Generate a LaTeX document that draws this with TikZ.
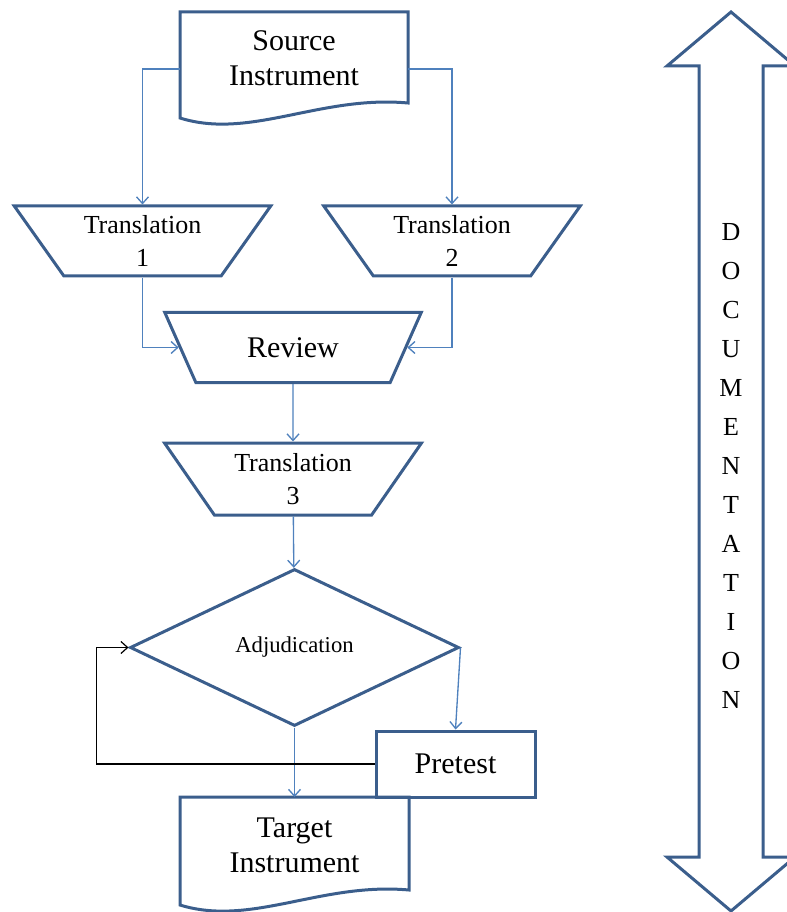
\documentclass[tikz,border=0pt]{standalone}
\usepackage{fontspec}
\setmainfont{Liberation Serif}
\usetikzlibrary{shapes.geometric,arrows.meta}
\definecolor{shapeblue}{RGB}{59,94,140}
\definecolor{linkblue}{RGB}{79,129,189}
\begin{document}
\begin{tikzpicture}[x=0.75pt,y=-0.75pt,
  outline/.style={draw=shapeblue,line width=2.25pt,line join=miter},
  trap/.style={outline,trapezium,trapezium stretches=true,shape border rotate=180,
    trapezium left angle=54,trapezium right angle=54,
    minimum width=257*0.75pt,minimum height=70*0.75pt,inner sep=0pt},
  conn/.style={draw=linkblue,line width=1pt,-{Straight Barb[length=5pt,width=9pt]}},
  back/.style={draw=black,line width=0.9pt,-{Straight Barb[length=5pt,width=9pt]}},
  bigtext/.style={font=\fontsize{22.5}{26.25}\selectfont,align=center},
  midtext/.style={font=\fontsize{19.5}{24.75}\selectfont,align=center},
  smalltext/.style={font=\fontsize{17}{20}\selectfont,align=center},
  frame/.style={inner sep=0pt,outer sep=0pt}
]
\useasboundingbox (0,0) rectangle (786,912);

% source document
\node[frame,minimum width=228*0.75pt,minimum height=114*0.75pt] (src) at (294,69) {};
\draw[outline] (180,12) -- (408,12) -- (408,103)
  .. controls (320,95) and (250,140) .. (180,118) -- cycle;
\node[bigtext] (srctext) at (294,58.5) {Source\\Instrument};

% translations and review
\node[trap,midtext] (t1) at (142.5,241) {Translation\\1};
\node[trap,midtext] (t2) at (452,241) {Translation\\2};
\node[trap,bigtext] (rev) at (293,347.5) {Review};
\node[trap,midtext,minimum height=72*0.75pt] (t3) at (293,479) {Translation\\3};

% adjudication and pretest
\node[outline,diamond,aspect=2,minimum width=329*0.75pt,minimum height=157*0.75pt,
  inner sep=0pt,smalltext] (adj) at (294.5,647.5) {Adjudication};
\node[outline,rectangle,minimum width=159*0.75pt,minimum height=66*0.75pt,bigtext]
  (pre) at (455.5,764) {Pretest};

% target document
\node[frame,minimum width=229*0.75pt,minimum height=114*0.75pt] (tgt) at (294.5,854) {};
\draw[outline] (180,797) -- (409,797) -- (409,890)
  .. controls (321,882) and (251,927) .. (180,905) -- cycle;
\node[bigtext] (tgttext) at (294.5,845.5) {Target\\Instrument};

% connectors
\draw[conn] (src.west) -| (t1);
\draw[conn] (src.east) -| (t2);
\draw[conn] (t1) |- (rev);
\draw[conn] (t2) |- (rev);
\draw[conn] (rev) -- (t3);
\draw[conn] (t3) -- (adj);
\draw[conn] (adj.east) -- (pre.north);
\draw[conn] (adj.south) -- (adj.south |- tgt.north);
\draw[back] (pre.west) -| ([xshift=-24pt]adj.west) -- (adj.west);

% documentation double arrow
\draw[outline] (731,12) -- (795,66) -- (763,66) -- (763,857) -- (795,857)
  -- (731,911) -- (667,857) -- (699,857) -- (699,66) -- (667,66) -- cycle;
\node[font=\fontsize{19.5}{29.25}\selectfont,align=center] (doc) at (731,466)
  {D\\O\\C\\U\\M\\E\\N\\T\\A\\T\\I\\O\\N};
\end{tikzpicture}
\end{document}
